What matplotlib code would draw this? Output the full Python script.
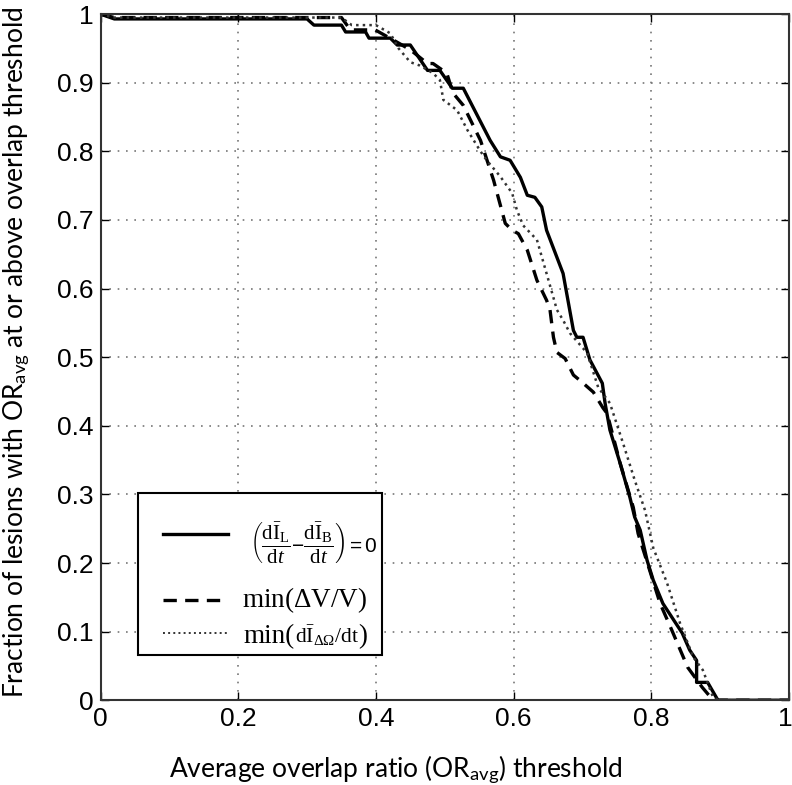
"""Fraction of lesions at or above an overlap-ratio threshold, three criteria."""

import matplotlib
matplotlib.use("Agg")
import matplotlib.pyplot as plt
import matplotlib.transforms as mtransforms
from matplotlib.lines import Line2D
from matplotlib.patches import Rectangle

plt.rcParams["mathtext.fontset"] = "custom"
plt.rcParams["mathtext.rm"] = "Liberation Serif"
plt.rcParams["mathtext.it"] = "Liberation Serif:italic"
plt.rcParams["mathtext.sf"] = "Liberation Sans"

# solid: (dI_L/dt - dI_B/dt) = 0
solid_x = [0.0, 0.02, 0.30, 0.31, 0.35, 0.356, 0.385, 0.39, 0.421, 0.431, 0.45,
           0.475, 0.493, 0.511, 0.527, 0.566, 0.581, 0.595, 0.61, 0.62, 0.631,
           0.641, 0.648, 0.672, 0.687, 0.692, 0.701, 0.711, 0.729, 0.733, 0.740,
           0.755, 0.769, 0.776, 0.784, 0.794, 0.803, 0.817, 0.845, 0.856, 0.866,
           0.866, 0.882, 0.897, 1.0]
solid_y = [1.0, 0.993, 0.993, 0.984, 0.984, 0.974, 0.974, 0.965, 0.965, 0.955, 0.955,
           0.918, 0.918, 0.892, 0.892, 0.816, 0.792, 0.787, 0.762, 0.736, 0.733,
           0.719, 0.685, 0.622, 0.539, 0.529, 0.529, 0.496, 0.462, 0.433, 0.394,
           0.345, 0.296, 0.267, 0.248, 0.204, 0.175, 0.141, 0.098, 0.073, 0.058,
           0.026, 0.026, 0.0, 0.0]

# dashed: min(dV/V)
dash_x = [0.0, 0.02, 0.35, 0.363, 0.399, 0.431, 0.45, 0.475, 0.483, 0.503, 0.512,
          0.527, 0.552, 0.571, 0.588, 0.598, 0.607, 0.62, 0.634, 0.648, 0.653,
          0.658, 0.663, 0.675, 0.687, 0.699, 0.716, 0.73, 0.736, 0.755, 0.774,
          0.781, 0.813, 0.83, 0.853, 0.874, 0.89, 1.0]
dash_y = [1.0, 0.995, 0.995, 0.977, 0.977, 0.959, 0.948, 0.928, 0.928, 0.914, 0.885,
          0.867, 0.816, 0.758, 0.695, 0.685, 0.680, 0.656, 0.612, 0.583, 0.569,
          0.529, 0.507, 0.498, 0.474, 0.464, 0.449, 0.426, 0.418, 0.345, 0.281,
          0.243, 0.141, 0.102, 0.048, 0.019, 0.0, 0.0]

# dotted: min(dI_dOmega/dt)
dot_x = [0.0, 0.02, 0.35, 0.365, 0.40, 0.421, 0.433, 0.45, 0.464, 0.483, 0.493,
         0.498, 0.518, 0.533, 0.552, 0.561, 0.581, 0.598, 0.605, 0.614, 0.634,
         0.648, 0.663, 0.672, 0.682, 0.707, 0.723, 0.74, 0.759, 0.776, 0.791,
         0.803, 0.823, 0.842, 0.861, 0.875, 0.89, 0.90, 1.0]
dot_y = [1.0, 0.995, 0.995, 0.984, 0.984, 0.972, 0.95, 0.93, 0.925, 0.914, 0.904,
         0.875, 0.86, 0.831, 0.80, 0.787, 0.763, 0.739, 0.714, 0.692, 0.671,
         0.622, 0.569, 0.554, 0.535, 0.506, 0.456, 0.433, 0.375, 0.321, 0.277,
         0.222, 0.171, 0.112, 0.063, 0.044, 0.004, 0.0, 0.0]

label_solid = (r"$\left(\dfrac{\mathrm{d}\bar{\mathrm{I}}_{\mathrm{L}}}{\mathrm{d}t}"
               r"\mathsf{-}\dfrac{\mathrm{d}\bar{\mathrm{I}}_{\mathrm{B}}}{\mathrm{d}t}\right)"
               r"\mathsf{=0}$")
label_dash = r"min($\Delta$V/V)"
label_dot = ["min(", r"$\mathrm{d\bar{I}_{\Delta\Omega}/dt}$", ")"]

xticks = [0, 0.2, 0.4, 0.6, 0.8, 1]
xtick_labels = ["0", "0.2", "0.4", "0.6", "0.8", "1"]
yticks = [0, 0.1, 0.2, 0.3, 0.4, 0.5, 0.6, 0.7, 0.8, 0.9, 1]
ytick_labels = ["0", "0.1", "0.2", "0.3", "0.4", "0.5", "0.6", "0.7", "0.8", "0.9", "1"]

fig = plt.figure(figsize=(7.92, 7.85), dpi=100)
ax = fig.add_axes([0.127, 0.108, 0.869, 0.874])

ax.plot(solid_x, solid_y, "-", color="black", lw=2.4)
ax.plot(dash_x, dash_y, "--", color="black", lw=2.4, dashes=(4, 2.5))
ax.plot(dot_x, dot_y, ":", color="#333333", lw=1.8)

ax.set_xlim(0, 1)
ax.set_ylim(0, 1)
ax.set_xticks(xticks)
ax.set_xticklabels(xtick_labels, family="Liberation Sans", fontsize=19)
ax.set_yticks(yticks)
ax.set_yticklabels(ytick_labels, family="Liberation Sans", fontsize=19)
ax.tick_params(direction="in", top=True, right=True, length=6, width=1, pad=5)
# keep the last x label inside the canvas
last = ax.get_xticklabels()[-1]
last.set_transform(last.get_transform()
                   + mtransforms.ScaledTranslation(-4 / 100, 0, fig.dpi_scale_trans))
ax.grid(True, linestyle=(0, (1, 4)), color="#777777", lw=1.2)
for s in ax.spines.values():
    s.set_linewidth(1.5)
    s.set_color("#333333")

ax.set_xlabel(r"Average overlap ratio (OR$_{\mathregular{avg}}$) threshold",
              family="Lato", fontsize=19)
ax.xaxis.set_label_coords(0.428, -0.078)
ax.set_ylabel(r"Fraction of lesions with OR$_{\mathregular{avg}}$ at or above overlap threshold",
              family="Lato", fontsize=19)
ax.yaxis.set_label_coords(-0.099, 0.507)

# legend, laid out by hand (rows are unevenly spaced in the original)
ta = ax.transAxes
ax.add_patch(Rectangle((0.0537, 0.0656), 0.3556, 0.2361, transform=ta,
                       facecolor="white", edgecolor="black", lw=1.5, zorder=5))
ax.add_line(Line2D([0.0914, 0.1858], [0.242, 0.242], transform=ta,
                   color="black", lw=2.4, zorder=6))
ax.add_line(Line2D([0.0914, 0.1858], [0.1458, 0.1458], transform=ta,
                   color="black", lw=2.4, ls="--", dashes=(4, 2.5), zorder=6))
ax.add_line(Line2D([0.0914, 0.1858], [0.0977, 0.0977], transform=ta,
                   color="#333333", lw=1.4, ls=":", zorder=6))
ax.text(0.2177, 0.2303, label_solid, transform=ta, fontsize=15,
        family="Liberation Serif", va="center", zorder=7)
ax.text(0.2061, 0.1356, label_dash, transform=ta, fontsize=19.5,
        family="Liberation Serif", va="baseline", zorder=7)
t = ax.text(0.2075, 0.0831, label_dot[0], transform=ta, fontsize=19.5,
            family="Liberation Serif", va="baseline", zorder=7)
t = ax.annotate(label_dot[1], xy=(1, 0.0831), xycoords=(t, "axes fraction"),
                fontsize=15.5, va="baseline", zorder=7)
ax.annotate(label_dot[2], xy=(1, 0.0831), xycoords=(t, "axes fraction"),
            fontsize=19.5, family="Liberation Serif", va="baseline", zorder=7)

fig.savefig("out.png", dpi=100)
